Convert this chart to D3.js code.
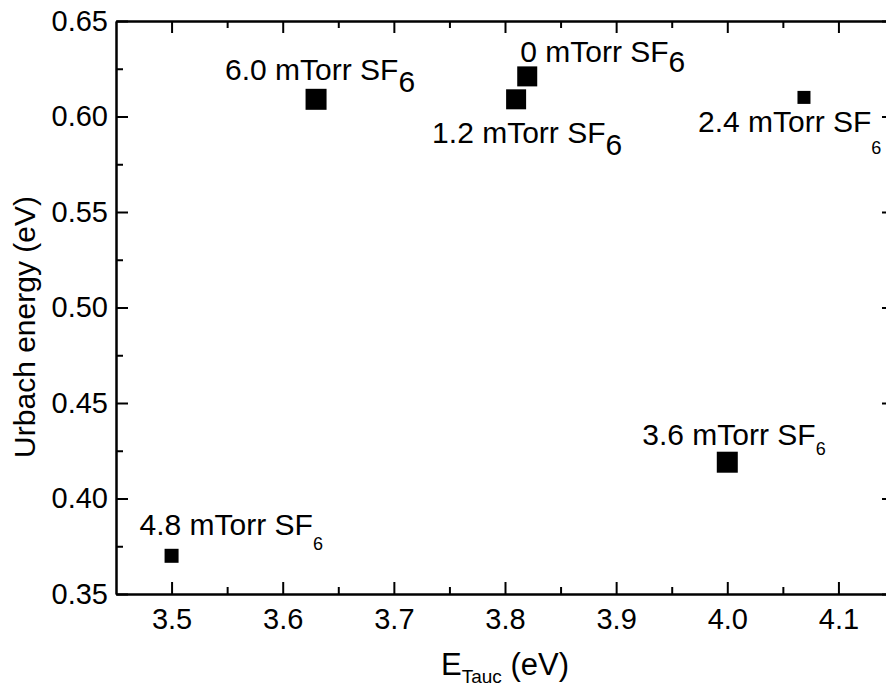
<!DOCTYPE html>
<html><head><meta charset="utf-8">
<script src="https://cdn.jsdelivr.net/npm/d3@7"></script>
<style>
body{margin:0;background:#fff}
svg{display:block}
text{font-family:"Liberation Sans",Arial,Helvetica,sans-serif;fill:#000}
</style>
</head><body>
<svg id="c" width="886" height="688"></svg>
<script>
// ---- data ----
const pressures = ["0", "1.2", "2.4", "3.6", "4.8", "6.0"];   // mTorr SF6
const eTauc     = [3.82, 3.81, 4.069, 4.00, 3.50, 3.63];       // eV
const urbach    = [0.621, 0.609, 0.610, 0.419, 0.370, 0.609];  // eV
const xTicks = [3.5, 3.6, 3.7, 3.8, 3.9, 4.0, 4.1];
const xMinorTicks = [3.55, 3.65, 3.75, 3.85, 3.95, 4.05];
const yTicks = [0.35, 0.40, 0.45, 0.50, 0.55, 0.60, 0.65];
const yMinorTicks = [0.375, 0.425, 0.475, 0.525, 0.575, 0.625];
const xTitle = ["E", "Tauc", " (eV)"];
const yTitle = "Urbach energy (eV)";

// ---- styles (per point) ----
const markerSize  = [20, 20, 13, 21, 14, 21];
const labelOffset = [[-7, -14], [-84, 44], [-106, 35], [-85, -17], [-32, -21], [-91, -19]];
const subFont     = [30, 30, 18, 18, 18, 30];
const subShift    = [10, 12, 22, 10, 15, 12];

const svg = d3.select("#c");
const m = {left: 116, top: 21, right: 894, bottom: 594};
const x = d3.scaleLinear().domain([3.45, 4.15]).range([m.left, m.right]);
const y = d3.scaleLinear().domain([0.35, 0.65]).range([m.bottom, m.top]);
const major = 12, minor = 7;

function styleAxis(g){
  g.selectAll(".domain").attr("stroke","#000").attr("stroke-width",2);
  g.selectAll(".tick line").attr("stroke","#000").attr("stroke-width",2);
  g.selectAll(".tick text").style("font-size","29px").attr("fill","#000");
}

// bottom
svg.append("g").attr("transform",`translate(0,${m.bottom})`)
  .call(d3.axisBottom(x).tickValues(xTicks).tickFormat(d3.format(".1f")).tickSizeInner(-major).tickSizeOuter(0).tickPadding(14))
  .call(styleAxis).call(g=>g.selectAll(".tick text").attr("dy","0.71em"));
svg.append("g").attr("transform",`translate(0,${m.bottom})`)
  .call(d3.axisBottom(x).tickValues(xMinorTicks).tickFormat("").tickSizeInner(-minor).tickSizeOuter(0))
  .call(styleAxis);
// top
svg.append("g").attr("transform",`translate(0,${m.top})`)
  .call(d3.axisTop(x).tickValues(xTicks).tickFormat("").tickSizeInner(-major).tickSizeOuter(0))
  .call(styleAxis);
svg.append("g").attr("transform",`translate(0,${m.top})`)
  .call(d3.axisTop(x).tickValues(xMinorTicks).tickFormat("").tickSizeInner(-minor).tickSizeOuter(0))
  .call(styleAxis);
// left
svg.append("g").attr("transform",`translate(${m.left},0)`)
  .call(d3.axisLeft(y).tickValues(yTicks).tickFormat(d3.format(".2f")).tickSizeInner(-major).tickSizeOuter(0).tickPadding(8))
  .call(styleAxis);
svg.append("g").attr("transform",`translate(${m.left},0)`)
  .call(d3.axisLeft(y).tickValues(yMinorTicks).tickFormat("").tickSizeInner(-minor).tickSizeOuter(0))
  .call(styleAxis);
// right
svg.append("g").attr("transform",`translate(${m.right},0)`)
  .call(d3.axisRight(y).tickValues(yTicks).tickFormat("").tickSizeInner(-major).tickSizeOuter(0))
  .call(styleAxis);
svg.append("g").attr("transform",`translate(${m.right},0)`)
  .call(d3.axisRight(y).tickValues(yMinorTicks).tickFormat("").tickSizeInner(-minor).tickSizeOuter(0))
  .call(styleAxis);

// points
const pts = pressures.map((p,i)=>({p, xv:eTauc[i], yv:urbach[i], i}));
svg.append("g").selectAll("rect").data(pts).join("rect")
  .attr("x", d=>x(d.xv)-markerSize[d.i]/2)
  .attr("y", d=>y(d.yv)-markerSize[d.i]/2)
  .attr("width", d=>markerSize[d.i]).attr("height", d=>markerSize[d.i])
  .attr("fill","#000");

// labels
const lab = svg.append("g").selectAll("text").data(pts).join("text")
  .attr("x", d=>x(d.xv)+labelOffset[d.i][0])
  .attr("y", d=>y(d.yv)+labelOffset[d.i][1])
  .style("font-size","30px");
lab.append("tspan").text(d=>d.p + " mTorr SF");
lab.append("tspan").text("6").style("font-size", d=>subFont[d.i]+"px")
  .attr("dy", d=>subShift[d.i]);

// axis titles
const xt = svg.append("text").attr("x", (m.left+m.right)/2).attr("y", 675)
  .attr("text-anchor","middle").style("font-size","31px");
xt.append("tspan").text(xTitle[0]);
xt.append("tspan").text(xTitle[1]).style("font-size","19px").attr("dy",8);
xt.append("tspan").text(xTitle[2]).attr("dy",-8);

svg.append("text").attr("transform","translate(35,327) rotate(-90)")
  .attr("text-anchor","middle").style("font-size","30px").text(yTitle);
</script>
</body></html>
